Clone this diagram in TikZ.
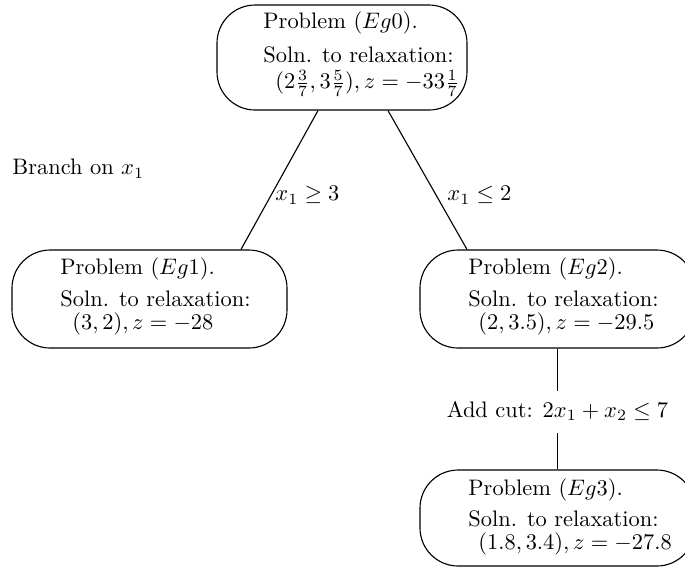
\documentclass[tikz,border=0pt]{standalone}
\usetikzlibrary{calc}
\begin{document}
\begin{tikzpicture}[x=0.446pt,y=-0.446pt,
  probbox/.style={draw, line width=0.5pt, rounded corners=17pt, inner sep=0pt},
  txt/.style={anchor=mid west, inner sep=0pt, font=\fontsize{10}{12}\selectfont},
  conn/.style={line width=0.5pt}]
\useasboundingbox (0,0) rectangle (685,569);
\clip (0,0) rectangle (685,569);
% boxes
\node[probbox, minimum width=250*0.446pt, minimum height=105*0.446pt] (e0) at (342,57.5) {};
\node[probbox, minimum width=275*0.446pt, minimum height=98*0.446pt] (e1) at (149.5,299) {};
\node[probbox, minimum width=275*0.446pt, minimum height=98*0.446pt] (e2) at (557.5,299) {};
\node[probbox, minimum width=275*0.446pt, minimum height=96*0.446pt] (e3) at (557.5,518) {};
% texts
\node[txt] (t0a) at (263,24) {Problem ($Eg0$).};
\node[txt] (t0b) at (263,58) {Soln. to relaxation:};
\node[txt] (t0c) at (275,84) {$(2\frac{3}{7},3\frac{5}{7}),z=-33\frac{1}{7}$};
\node[txt] (t1a) at (60,270) {Problem ($Eg1$).};
\node[txt] (t1b) at (60,302) {Soln. to relaxation:};
\node[txt] (t1c) at (72,325) {$(3,2),z=-28$};
\node[txt] (t2a) at (468,270) {Problem ($Eg2$).};
\node[txt] (t2b) at (468,302) {Soln. to relaxation:};
\node[txt] (t2c) at (478,325) {$(2,3.5),z=-29.5$};
\node[txt] (t3a) at (468,491) {Problem ($Eg3$).};
\node[txt] (t3b) at (468,522) {Soln. to relaxation:};
\node[txt] (t3c) at (478,545) {$(1.8,3.4),z=-27.8$};
% labels
\node[txt] (br) at (12,170) {Branch on $x_1$};
\node[txt] (l1) at (275,196) {$x_1\geq 3$};
\node[txt] (l2) at (447,196) {$x_1\leq 2$};
\node[inner sep=0pt, font=\fontsize{10}{12}\selectfont] (cut) at (557.5,411) {Add cut: $2x_1+x_2\leq 7$};
% connectors
\draw[conn] ($(e0.south)+(-24,0)$) -- ($(e1.north)+(91.5,0)$);
\draw[conn] ($(e0.south)+(46,0)$) -- ($(e2.north)+(-90.5,0)$);
\draw[conn] (e2.south) -- ($(cut.north)+(0,-10)$);
\draw[conn] ($(cut.south)+(0,12)$) -- (e3.north);
\end{tikzpicture}
\end{document}
